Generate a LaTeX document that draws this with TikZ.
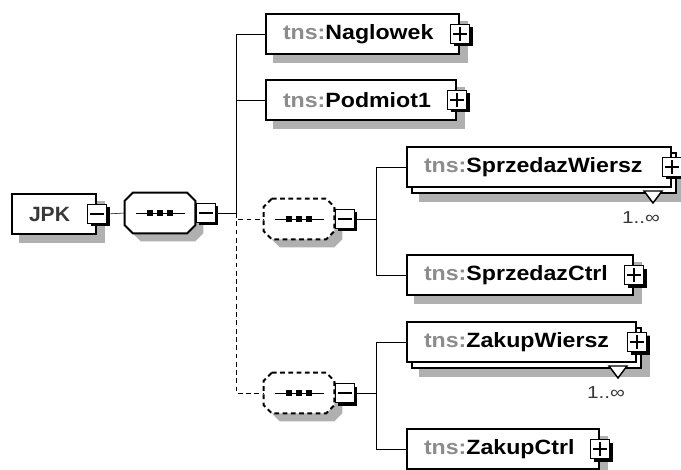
\documentclass[tikz,border=0pt]{standalone}
\usepackage{fontspec}
\setmainfont{Liberation Sans}
\usetikzlibrary{calc}
\pgfdeclarelayer{shadowlayer}
\pgfsetlayers{shadowlayer,main}
\definecolor{shd}{RGB}{176,176,176}
\definecolor{tnsg}{RGB}{140,140,140}
\definecolor{jpkc}{RGB}{56,56,56}
\newcommand{\elname}[1]{\scalebox{1.12}[1]{\bfseries\textcolor{tnsg}{tns:}#1}}
\newcommand{\octagonpath}[4]{% name, style, dx, dy
  \path[#2] ($(#1.north west)+(8+#3,#4)$) -- ($(#1.north east)+(-8+#3,#4)$) -- ($(#1.north east)+(#3,8+#4)$)
    -- ($(#1.south east)+(#3,-8+#4)$) -- ($(#1.south east)+(-8+#3,#4)$) -- ($(#1.south west)+(8+#3,#4)$)
    -- ($(#1.south west)+(#3,-8+#4)$) -- ($(#1.north west)+(#3,8+#4)$) -- cycle;}
\newcommand{\seqicon}[1]{%
  \draw ($(#1.center)+(-24,0)$) -- ($(#1.center)+(25,0)$);
  \foreach \d in {-10,0,10} \fill ($(#1.center)+(\d,0)+(-3,-3)$) rectangle +(6,6);}
\newcommand{\minussign}[1]{\draw[line width=1.1pt] ($(#1.west)+(3.5,0)$) -- ($(#1.east)+(-3.5,0)$);}
\newcommand{\plussign}[1]{\minussign{#1}\draw[line width=1.1pt] ($(#1.north)+(0,3.5)$) -- ($(#1.south)+(0,-3.5)$);}
\newcommand{\btnat}[3]{% name, centre coordinate, sign macro
  \fill[black] ($#2+(-6.5,-6.5)$) rectangle ($#2+(12.5,12.5)$);
  \node[btn] (#1) at #2 {};
  #3{#1}}
\newcommand{\boxshadow}[1]{%
  \begin{pgfonlayer}{shadowlayer}
  \fill[shd] ($(#1.north west)+(8,8)$) rectangle ($(#1.south east)+(8,8)$);
  \end{pgfonlayer}}
\begin{document}
\begin{tikzpicture}[x=0.75pt,y=-0.75pt, line width=1.4pt,
  elbox/.style={draw=black, fill=white, anchor=north west, minimum height=30pt, inner xsep=12.75pt,
    inner ysep=0pt, align=left, font=\fontsize{15.5}{17}\selectfont, line width=1.5pt},
  btn/.style={draw=black, fill=white, minimum size=14.25pt, inner sep=0pt, line width=1.1pt},
  seqbox/.style={minimum width=52.5pt, minimum height=30pt, inner sep=0pt, draw=none},
  dashline/.style={dash pattern=on 3.6pt off 2.6pt},
  mult/.style={font=\fontsize{13}{15}\selectfont, text=jpkc, inner sep=0pt}]
\begin{pgfonlayer}{shadowlayer}
\fill[white] (0,0) rectangle (681,470);
\end{pgfonlayer}
\useasboundingbox (0,0) rectangle (681,470);

% root element
\node[elbox, text width=37.5pt] (jpk) at (11,193) {\scalebox{1.02}[1]{\bfseries\textcolor{jpkc}{JPK}}};
\boxshadow{jpk}
\btnat{bjpk}{(jpk.east)}{\minussign}

% main sequence
\node[seqbox] (s0) at (160,213) {};
\octagonpath{s0}{fill=shd}{8}{8}
\octagonpath{s0}{draw, fill=white, line width=1.5pt}{0}{0}
\seqicon{s0}
\coordinate (c0) at ($(s0.east)+(10.5,0)$);
\btnat{b0}{(c0)}{\minussign}
\draw (bjpk.east) -- (s0.west);

% children of main sequence
\node[elbox, text width=119.25pt] (nag) at (265,13) {\elname{Naglowek}};
\boxshadow{nag}
\btnat{bnag}{(nag.east)}{\plussign}
\node[elbox, text width=117pt] (pod) at (265,79) {\elname{Podmiot1}};
\boxshadow{pod}
\btnat{bpod}{(pod.east)}{\plussign}

\node[seqbox] (s1) at (299,219) {};
\octagonpath{s1}{fill=shd}{8}{8}
\octagonpath{s1}{draw, fill=white, dashline, line width=1.5pt}{0}{0}
\seqicon{s1}
\coordinate (c1) at ($(s1.east)+(10.5,0)$);
\btnat{b1}{(c1)}{\minussign}

\node[seqbox] (s2) at (299,393) {};
\octagonpath{s2}{fill=shd}{8}{8}
\octagonpath{s2}{draw, fill=white, dashline, line width=1.5pt}{0}{0}
\seqicon{s2}
\coordinate (c2) at ($(s2.east)+(10.5,0)$);
\btnat{b2}{(c2)}{\minussign}

\coordinate (j0) at (236,213);
\draw (b0.east) -- (j0);
\draw (j0) |- (nag.west);
\draw (j0) |- (pod.west);
\draw[dashline] (j0) |- (s1.west);
\draw[dashline] (j0) |- (s2.west);

% first choice group
\node[elbox, text width=172.5pt] (swb) at (411,152) {\phantom{\elname{SprzedazWiersz}}};
\boxshadow{swb}
\filldraw[fill=white, line width=1.1pt] ($(swb.south east)+(-33,-3)$) -- ($(swb.south east)+(-15,-3)$) -- ($(swb.south east)+(-24,9)$) -- cycle;
\node[elbox, text width=172.5pt] (swf) at (406,146) {\elname{SprzedazWiersz}};
\btnat{bsw}{(swf.east)}{\plussign}
\node[mult] (m1) at ($(swb.south east)+(-36,24)$) {\scalebox{1.2}[1]{1..∞}};

\node[elbox, text width=144pt] (sc) at (406,254) {\elname{SprzedazCtrl}};
\boxshadow{sc}
\btnat{bsc}{(sc.east)}{\plussign}

\coordinate (j1) at (376,219);
\draw (b1.east) -- (j1);
\draw (j1) |- (swf.west);
\draw (j1) |- (sc.west);

% second choice group
\node[elbox, text width=146.25pt] (zwb) at (411,327) {\phantom{\elname{ZakupWiersz}}};
\boxshadow{zwb}
\filldraw[fill=white, line width=1.1pt] ($(zwb.south east)+(-33,-3)$) -- ($(zwb.south east)+(-15,-3)$) -- ($(zwb.south east)+(-24,9)$) -- cycle;
\node[elbox, text width=146.25pt] (zwf) at (406,321) {\elname{ZakupWiersz}};
\btnat{bzw}{(zwf.east)}{\plussign}
\node[mult] (m2) at ($(zwb.south east)+(-36,24)$) {\scalebox{1.2}[1]{1..∞}};

\node[elbox, text width=118.5pt] (zc) at (406,428) {\elname{ZakupCtrl}};
\boxshadow{zc}
\btnat{bzc}{(zc.east)}{\plussign}

\coordinate (j2) at (376,393);
\draw (b2.east) -- (j2);
\draw (j2) |- (zwf.west);
\draw (j2) |- (zc.west);
\end{tikzpicture}
\end{document}
